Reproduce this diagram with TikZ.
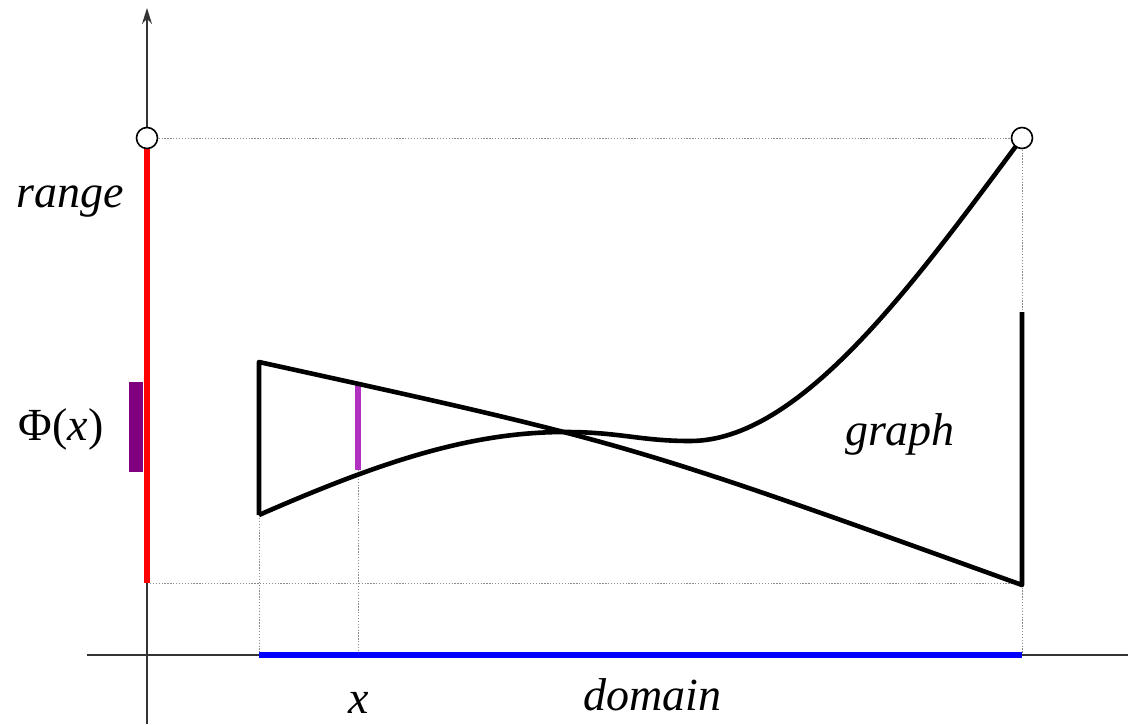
\documentclass[tikz,border=0pt]{standalone}
\usepackage{fontspec}
\setmainfont{Liberation Serif}
\usetikzlibrary{arrows.meta}
\definecolor{purp}{HTML}{800080}
\definecolor{orch}{HTML}{B030C0}
\begin{document}
\begin{tikzpicture}[x=1pt,y=-1pt,
  axis/.style={line width=1.6pt,draw=black!80},
  guide/.style={line width=1pt,draw=black!45,dash pattern=on 1.3pt off 1.6pt},
  graphline/.style={line width=4.6pt,line join=round},
  bar/.style={line width=6pt},
  lbl/.style={font=\fontsize{46}{50}\selectfont\itshape,anchor=base,inner sep=0pt},
  opendot/.style={circle,draw=black,fill=white,line width=1.6pt,minimum size=21pt,inner sep=0pt}]
\useasboundingbox (0,0) rectangle (1128,724);
\coordinate (Rtop) at (147,138);
\coordinate (Rbot) at (147,583);
\coordinate (Gend) at (1022,138);
\coordinate (GbotR) at (1022,583);
\coordinate (Dl) at (259,655);
\coordinate (Dr) at (1022,655);
\coordinate (Dx) at (358,655);
\coordinate (Lt) at (259,362);
\coordinate (Lb) at (259,515);
\coordinate (Rt) at (1022,312);
\coordinate (Rb) at (1022,585);
\coordinate (Xt) at (358,382);
\coordinate (Xb) at (358,470);
\coordinate (Hl) at (87,655);
\coordinate (Hr) at (1128,655);
\coordinate (Vb) at (147,724);
\coordinate (Vt) at (147,8);
\coordinate (Pmax) at (565,432);
\coordinate (Pmin) at (690,441);
% guides
\draw[guide] (Rtop) -- (Gend);
\draw[guide] (Rbot) -- (GbotR);
\draw[guide] (Gend) -- (Dr);
\draw[guide] (Lb) -- (Dl);
\draw[guide] (Xb) -- (Dx);
% axes
\draw[axis] (Hl) -- (Hr);
\draw[axis,-{Stealth[length=16pt,width=10pt]}] (Vb) -- (Vt);
% range and domain
\draw[bar,red] (Rbot) -- (Rtop);
\draw[bar,blue] (Dl) -- (Dr);
\fill[purp] (129,382) rectangle (143,472);
\draw[bar,orch] (Xt) -- (Xb);
% graph
\draw[graphline] (Rt) -- (Rb) .. controls (628,443) and (628,443) .. (Lt) -- (Lb);
\draw[graphline] (Lb) .. controls (380,462) and (470,432) .. (Pmax)
  .. controls (620,432) and (640,441) .. (Pmin)
  .. controls (800,441) and (912,286) .. (Gend);
% open dots
\node[opendot] (c1) at (Rtop) {};
\node[opendot] (c2) at (Gend) {};
% labels
\node[lbl] (range) at (70,207) {range};
\node[lbl] (graphlbl) at (900,445) {graph};
\node[lbl] (domain) at (652,710) {domain};
\node[lbl] (xlbl) at (359,713) {x};
\node[lbl,font=\fontsize{46}{50}\selectfont] (phi) at (61,440) {Φ(\textit{x})};
\end{tikzpicture}
\end{document}
